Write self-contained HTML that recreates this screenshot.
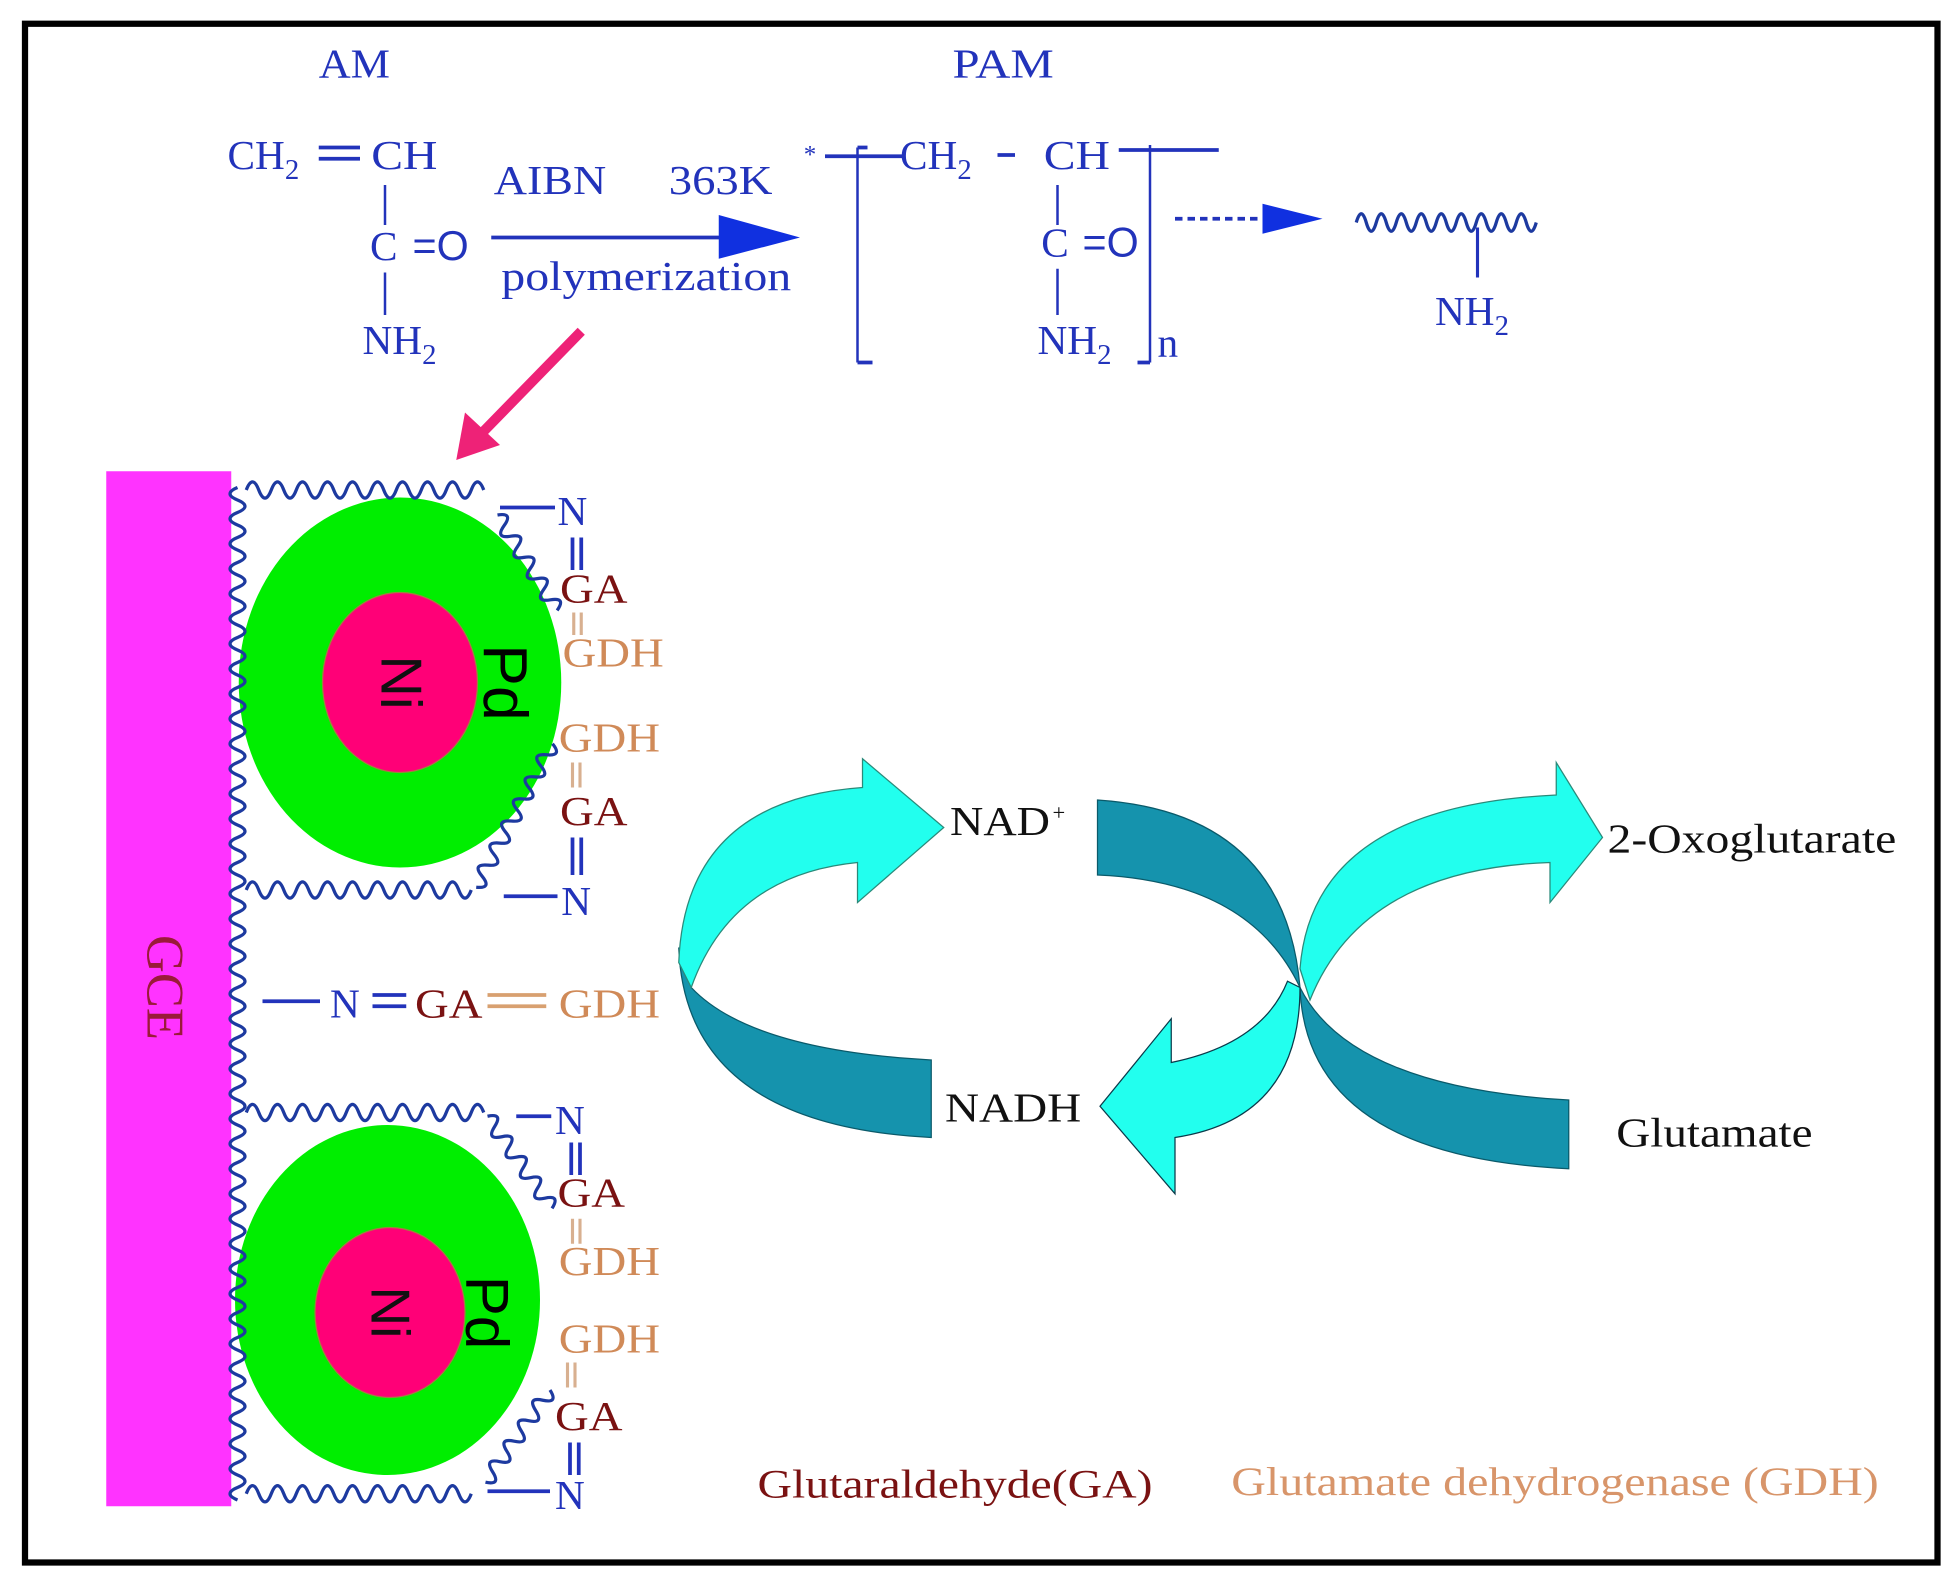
<!DOCTYPE html>
<html><head><meta charset="utf-8"><style>
html,body{margin:0;padding:0;background:#fff;}
svg{display:block;}
text{font-family:"Liberation Serif",serif;}
.b{fill:#2233bb;font-size:33px;}
.r{fill:#7a1212;font-size:33px;}
.t{fill:#d08a58;font-size:33px;}
.k{fill:#111;font-size:33px;}
.w{fill:none;stroke:#1d3aa0;stroke-width:2.6;}
</style></head><body>
<svg width="1960" height="1580" viewBox="0 0 1568 1264" preserveAspectRatio="none" xmlns="http://www.w3.org/2000/svg">
<rect x="0" y="0" width="1568" height="1264" fill="#fff"/>
<rect x="20" y="19" width="1530" height="1231" fill="none" stroke="#000" stroke-width="5"/>

<!-- Top chemistry -->
<text class="b" x="255" y="62" textLength="57" lengthAdjust="spacingAndGlyphs">AM</text>
<text class="b" x="762" y="62" textLength="81" lengthAdjust="spacingAndGlyphs">PAM</text>
<text class="b" x="182" y="135">CH<tspan dy="8" font-size="23">2</tspan></text>
<line x1="255" y1="118" x2="288" y2="118" stroke="#2233bb" stroke-width="3"/>
<line x1="255" y1="127" x2="288" y2="127" stroke="#2233bb" stroke-width="3"/>
<text class="b" x="297" y="135" textLength="53" lengthAdjust="spacingAndGlyphs">CH</text>
<line x1="308" y1="148" x2="308" y2="180" stroke="#2233bb" stroke-width="2"/>
<text class="b" x="296" y="208">C</text>
<text class="b" x="330" y="208" style="font-family:'Liberation Sans',sans-serif">=O</text>
<line x1="308" y1="218" x2="308" y2="252" stroke="#2233bb" stroke-width="2"/>
<text class="b" x="290" y="283">NH<tspan dy="8" font-size="23">2</tspan></text>

<text class="b" x="395" y="155" textLength="90" lengthAdjust="spacingAndGlyphs">AIBN</text>
<text class="b" x="535" y="155" textLength="83" lengthAdjust="spacingAndGlyphs">363K</text>
<line x1="393" y1="190" x2="590" y2="190" stroke="#2233bb" stroke-width="3"/>
<polygon points="575,172 640,190 575,207" fill="#1030e0"/>
<text class="b" x="401" y="232" textLength="232" lengthAdjust="spacingAndGlyphs">polymerization</text>

<text class="b" x="643" y="130" style="font-size:20px">*</text>
<line x1="660" y1="125" x2="722" y2="125" stroke="#2233bb" stroke-width="3"/>
<line x1="686" y1="118" x2="686" y2="290" stroke="#2233bb" stroke-width="2"/>
<line x1="686" y1="118" x2="694" y2="118" stroke="#2233bb" stroke-width="3"/>
<line x1="686" y1="290" x2="698" y2="290" stroke="#2233bb" stroke-width="3"/>
<text class="b" x="720" y="135">CH<tspan dy="8" font-size="23">2</tspan></text>
<line x1="798" y1="124" x2="812" y2="124" stroke="#2233bb" stroke-width="3"/>
<text class="b" x="835" y="135" textLength="53" lengthAdjust="spacingAndGlyphs">CH</text>
<line x1="895" y1="120" x2="975" y2="120" stroke="#2233bb" stroke-width="3"/>
<line x1="920" y1="116" x2="920" y2="290" stroke="#2233bb" stroke-width="2"/>
<line x1="910" y1="290" x2="920" y2="290" stroke="#2233bb" stroke-width="3"/>
<line x1="846" y1="148" x2="846" y2="180" stroke="#2233bb" stroke-width="2"/>
<text class="b" x="833" y="205">C</text>
<text class="b" x="866" y="205" style="font-family:'Liberation Sans',sans-serif">=O</text>
<line x1="846" y1="215" x2="846" y2="252" stroke="#2233bb" stroke-width="2"/>
<text class="b" x="830" y="283">NH<tspan dy="8" font-size="23">2</tspan></text>
<text class="b" x="926" y="285">n</text>

<line x1="940" y1="175" x2="1012" y2="175" stroke="#2233bb" stroke-width="3" stroke-dasharray="6,4"/>
<polygon points="1010,163 1058,175 1010,187" fill="#1030e0"/>
<path class="w" d="M1085,178 q4,-14 8,0 t8,0 t8,0 t8,0 t8,0 t8,0 t8,0 t8,0 t8,0 t8,0 t8,0 t8,0 t8,0 t8,0 t8,0 t8,0 t8,0 t8,0"/>
<line x1="1182" y1="182" x2="1182" y2="222" stroke="#2233bb" stroke-width="2.5"/>
<text class="b" x="1148" y="260">NH<tspan dy="8" font-size="23">2</tspan></text>

<!-- Pink arrow -->
<line x1="465" y1="265" x2="385" y2="347" stroke="#ee2277" stroke-width="8"/>
<polygon points="365,368 372,330 400,356" fill="#ee2277"/>

<!-- GCE -->
<rect x="85" y="377" width="100" height="828" fill="#ff33ff"/>
<text x="0" y="0" transform="translate(118,790) rotate(90)" text-anchor="middle" style="font-size:42px;fill:#9a1a3a">GCE</text>

<!-- Particles -->
<ellipse cx="320" cy="546" rx="129" ry="148" fill="#00ee00"/>
<ellipse cx="320" cy="546" rx="62" ry="72" fill="#ff0077" stroke="#a08040" stroke-width="1"/>
<text transform="translate(305,546) rotate(90)" text-anchor="middle" style="font-family:'Liberation Sans',sans-serif;font-size:46px;fill:#111">Ni</text>
<text transform="translate(387,546) rotate(90)" text-anchor="middle" style="font-family:'Liberation Sans',sans-serif;font-size:50px;fill:#000">Pd</text>

<ellipse cx="310" cy="1040" rx="122" ry="140" fill="#00ee00"/>
<ellipse cx="312" cy="1050" rx="60" ry="68" fill="#ff0077" stroke="#a08040" stroke-width="1"/>
<text transform="translate(297,1050) rotate(90)" text-anchor="middle" style="font-family:'Liberation Sans',sans-serif;font-size:44px;fill:#111">Ni</text>
<text transform="translate(373,1050) rotate(90)" text-anchor="middle" style="font-family:'Liberation Sans',sans-serif;font-size:48px;fill:#000">Pd</text>

<!-- Wavy chains -->
<path class="w" d="M190,390 q-12,5 0,10 t0,10 t0,10 t0,10 t0,10 t0,10 t0,10 t0,10 t0,10 t0,10 t0,10 t0,10 t0,10 t0,10 t0,10 t0,10 t0,10 t0,10 t0,10 t0,10 t0,10 t0,10 t0,10 t0,10 t0,10 t0,10 t0,10 t0,10 t0,10 t0,10 t0,10 t0,10 t0,10 t0,10 t0,10 t0,10 t0,10 t0,10 t0,10 t0,10 t0,10 t0,10 t0,10 t0,10 t0,10 t0,10 t0,10 t0,10 t0,10 t0,10 t0,10 t0,10 t0,10 t0,10 t0,10 t0,10 t0,10 t0,10 t0,10 t0,10 t0,10 t0,10 t0,10 t0,10 t0,10 t0,10 t0,10 t0,10 t0,10 t0,10 t0,10 t0,10 t0,10 t0,10 t0,10 t0,10 t0,10 t0,10 t0,10 t0,10 t0,10"/>
<path class="w" d="M197,392 q5,-13 10,0 t10,0 t10,0 t10,0 t10,0 t10,0 t10,0 t10,0 t10,0 t10,0 t10,0 t10,0 t10,0 t10,0 t10,0 t10,0 t10,0 t10,0 t10,0"/>
<g transform="translate(398,412) rotate(58)"><path class="w" d="M0,0 q5,-12 10,0 t10,0 t10,0 t10,0 t10,0 t10,0 t10,0 t10,0 t10,0"/></g>
<g transform="translate(442,595) rotate(118)"><path class="w" d="M0,0 q5,-12 10,0 t10,0 t10,0 t10,0 t10,0 t10,0 t10,0 t10,0 t10,0 t10,0 t10,0 t10,0 t10,0"/></g>
<path class="w" d="M197,712 q5,-13 10,0 t10,0 t10,0 t10,0 t10,0 t10,0 t10,0 t10,0 t10,0 t10,0 t10,0 t10,0 t10,0 t10,0 t10,0 t10,0 t10,0 t10,0"/>
<path class="w" d="M197,890 q5,-13 10,0 t10,0 t10,0 t10,0 t10,0 t10,0 t10,0 t10,0 t10,0 t10,0 t10,0 t10,0 t10,0 t10,0 t10,0 t10,0 t10,0 t10,0 t10,0"/>
<g transform="translate(390,893) rotate(55)"><path class="w" d="M0,0 q5,-12 10,0 t10,0 t10,0 t10,0 t10,0 t10,0 t10,0 t10,0 t10,0"/></g>
<g transform="translate(440,1112) rotate(125)"><path class="w" d="M0,0 q5,-12 10,0 t10,0 t10,0 t10,0 t10,0 t10,0 t10,0 t10,0 t10,0"/></g>
<path class="w" d="M197,1195 q5,-13 10,0 t10,0 t10,0 t10,0 t10,0 t10,0 t10,0 t10,0 t10,0 t10,0 t10,0 t10,0 t10,0 t10,0 t10,0 t10,0 t10,0 t10,0"/>

<!-- top particle labels -->
<line x1="400" y1="406" x2="444" y2="406" stroke="#2233bb" stroke-width="3"/>
<text class="b" x="446" y="420">N</text>
<line x1="458" y1="430" x2="458" y2="456" stroke="#2233bb" stroke-width="3"/><line x1="465" y1="430" x2="465" y2="456" stroke="#2233bb" stroke-width="3"/>
<text class="r" x="448" y="482" textLength="54" lengthAdjust="spacingAndGlyphs">GA</text>
<line x1="459" y1="490" x2="459" y2="508" stroke="#d8b090" stroke-width="2.5"/><line x1="465" y1="490" x2="465" y2="508" stroke="#d8b090" stroke-width="2.5"/>
<text class="t" x="450" y="533" textLength="81" lengthAdjust="spacingAndGlyphs">GDH</text>
<text class="t" x="447" y="601" textLength="81" lengthAdjust="spacingAndGlyphs">GDH</text>
<line x1="458" y1="610" x2="458" y2="630" stroke="#d8b090" stroke-width="2.5"/><line x1="464" y1="610" x2="464" y2="630" stroke="#d8b090" stroke-width="2.5"/>
<text class="r" x="448" y="660" textLength="54" lengthAdjust="spacingAndGlyphs">GA</text>
<line x1="458" y1="670" x2="458" y2="700" stroke="#2233bb" stroke-width="3"/><line x1="465" y1="670" x2="465" y2="700" stroke="#2233bb" stroke-width="3"/>
<line x1="403" y1="717" x2="446" y2="717" stroke="#2233bb" stroke-width="3"/>
<text class="b" x="449" y="732">N</text>

<!-- middle -->
<line x1="210" y1="801" x2="256" y2="801" stroke="#2233bb" stroke-width="3"/>
<text class="b" x="264" y="814">N</text>
<line x1="298" y1="796" x2="325" y2="796" stroke="#2233bb" stroke-width="3"/><line x1="298" y1="805" x2="325" y2="805" stroke="#2233bb" stroke-width="3"/>
<text class="r" x="332" y="814" textLength="54" lengthAdjust="spacingAndGlyphs">GA</text>
<line x1="390" y1="796" x2="437" y2="796" stroke="#d8a070" stroke-width="3"/><line x1="390" y1="805" x2="437" y2="805" stroke="#d8a070" stroke-width="3"/>
<text class="t" x="447" y="814" textLength="81" lengthAdjust="spacingAndGlyphs">GDH</text>

<!-- bottom particle labels -->
<line x1="413" y1="893" x2="441" y2="893" stroke="#2233bb" stroke-width="3"/>
<text class="b" x="444" y="907">N</text>
<line x1="457" y1="914" x2="457" y2="940" stroke="#2233bb" stroke-width="3"/><line x1="464" y1="914" x2="464" y2="940" stroke="#2233bb" stroke-width="3"/>
<text class="r" x="446" y="965" textLength="54" lengthAdjust="spacingAndGlyphs">GA</text>
<line x1="458" y1="975" x2="458" y2="995" stroke="#d8b090" stroke-width="2.5"/><line x1="464" y1="975" x2="464" y2="995" stroke="#d8b090" stroke-width="2.5"/>
<text class="t" x="447" y="1020" textLength="81" lengthAdjust="spacingAndGlyphs">GDH</text>
<text class="t" x="447" y="1082" textLength="81" lengthAdjust="spacingAndGlyphs">GDH</text>
<line x1="454" y1="1090" x2="454" y2="1110" stroke="#d8b090" stroke-width="2.5"/><line x1="460" y1="1090" x2="460" y2="1110" stroke="#d8b090" stroke-width="2.5"/>
<text class="r" x="444" y="1144" textLength="54" lengthAdjust="spacingAndGlyphs">GA</text>
<line x1="456" y1="1154" x2="456" y2="1180" stroke="#2233bb" stroke-width="3"/><line x1="463" y1="1154" x2="463" y2="1180" stroke="#2233bb" stroke-width="3"/>
<line x1="390" y1="1193" x2="440" y2="1193" stroke="#2233bb" stroke-width="3"/>
<text class="b" x="444" y="1207">N</text>

<!-- Cycle arrows -->
<path d="M543,758 Q548,900 745,910 L745,848 Q600,840 553,790 Z" fill="#1593ad" stroke="#0a5a6a" stroke-width="1"/>
<path d="M543,770 Q548,640 690,630 L690,607 L755,662 L686,722 L686,690 Q585,700 553,790 Z" fill="#22ffee" stroke="#2a8a7a" stroke-width="1"/>
<path d="M878,640 Q1028,650 1040,790 Q1045,925 1255,935 L1255,880 Q1080,870 1040,790 Q1000,705 878,700 Z" fill="#1593ad" stroke="#0a5a6a" stroke-width="1"/>
<path d="M1040,775 Q1050,645 1245,636 L1245,610 L1282,670 L1240,722 L1240,690 Q1090,695 1048,800 Z" fill="#22ffee" stroke="#2a8a7a" stroke-width="1"/>
<path d="M1030,785 Q1010,835 937,850 L937,815 L880,885 L940,955 L940,910 Q1040,895 1040,790 Z" fill="#22ffee" stroke="#0a3a4a" stroke-width="1"/>

<text class="k" x="760" y="668" textLength="80" lengthAdjust="spacingAndGlyphs">NAD</text>
<text class="k" x="842" y="656" style="font-size:18px">+</text>
<text class="k" x="756" y="897" textLength="109" lengthAdjust="spacingAndGlyphs">NADH</text>
<text class="k" x="1286" y="682" textLength="231" lengthAdjust="spacingAndGlyphs">2-Oxoglutarate</text>
<text class="k" x="1293" y="917" textLength="157" lengthAdjust="spacingAndGlyphs">Glutamate</text>

<text x="606" y="1198" style="font-size:32px;fill:#7a1212" textLength="316" lengthAdjust="spacingAndGlyphs">Glutaraldehyde(GA)</text>
<text x="985" y="1196" style="font-size:32px;fill:#d8956a" textLength="518" lengthAdjust="spacingAndGlyphs">Glutamate dehydrogenase (GDH)</text>
</svg>
</body></html>
